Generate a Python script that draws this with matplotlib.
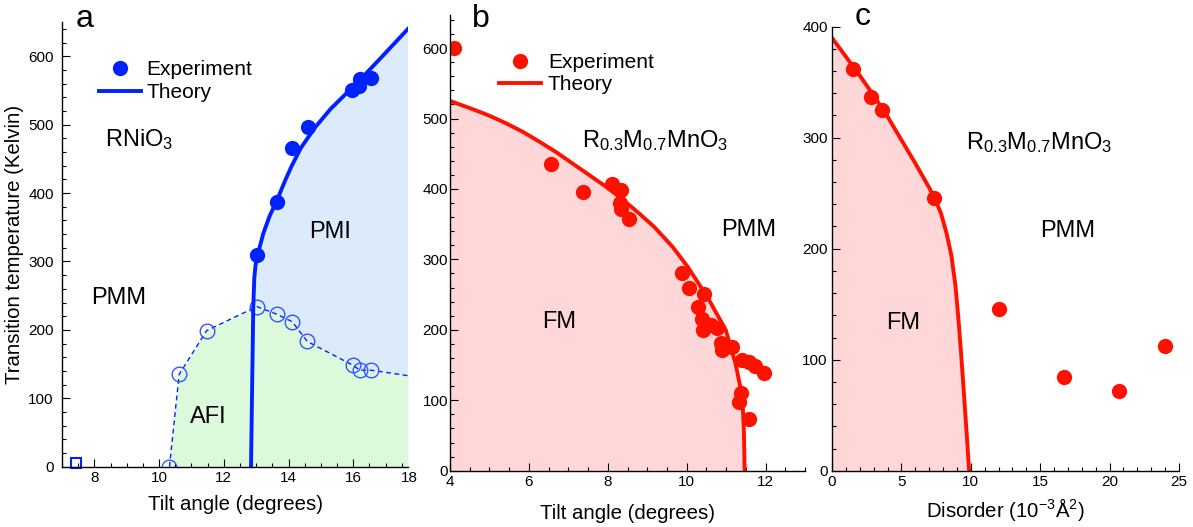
import numpy as np
import matplotlib
matplotlib.use('Agg')
import matplotlib.pyplot as plt
from matplotlib.lines import Line2D
from matplotlib.ticker import MultipleLocator

plt.rcParams['font.family'] = ['Liberation Sans', 'DejaVu Sans']
plt.rcParams['mathtext.fontset'] = 'custom'
plt.rcParams['mathtext.rm'] = 'Liberation Sans'
plt.rcParams['mathtext.it'] = 'Liberation Sans:italic'

# ---- panel a : RNiO3 ----
a_exp_x = [13.04, 13.63, 14.12, 14.61, 15.95, 16.18, 16.22, 16.54]
a_exp_t = [309, 387, 466, 496, 551, 557, 566, 568]
a_afi_x = [10.32, 10.62, 11.47, 13.02, 13.63, 14.11, 14.58, 16.0, 16.2, 16.56]
a_afi_t = [0, 135, 199, 234, 223, 212, 183, 148, 141, 141]
a_afi_end = (17.69, 133)
a_sq_x = [7.42]
a_sq_t = [5]
a_th_x = [12.84, 12.88, 12.91, 12.94, 12.98, 13.04, 13.22, 13.42, 13.62, 13.90, 14.10,
          14.38, 14.82, 15.30, 15.92, 16.38, 16.88, 17.69]
a_th_t = [0, 136, 234, 275, 295, 309, 341, 367, 387, 419, 440,
          466, 496, 523, 552, 574, 599, 640]

# ---- panel b : R0.3M0.7MnO3 vs tilt ----
b_exp_x = [4.09, 6.55, 7.36, 8.11, 8.34, 8.31, 8.33, 8.53, 9.89, 10.06, 10.44,
           10.29, 10.40, 10.41, 10.61, 10.78, 10.86, 10.90, 11.15, 11.41, 11.58,
           11.73, 11.95, 11.37, 11.32, 11.59]
b_exp_t = [600, 436, 395, 407, 398, 380, 371, 357, 280, 259, 251,
           233, 216, 200, 207, 202, 181, 171, 175, 157, 155,
           148, 139, 110, 98, 73]
b_th_x = [4.0, 4.59, 5.0, 5.43, 5.85, 6.27, 6.7, 7.11, 7.55, 7.96, 8.38, 8.80, 9.18,
          9.64, 10.02, 10.52, 10.99, 11.24, 11.41, 11.45, 11.47]
b_th_t = [525, 513, 504, 493, 481, 467, 452, 436, 419, 403, 385, 365, 346,
          318, 290, 247, 200, 152, 105, 58, 0]

# ---- panel c : R0.3M0.7MnO3 vs disorder ----
c_exp_x = [1.53, 2.81, 3.62, 7.36, 12.04, 16.71, 20.65, 24.0]
c_exp_t = [362, 337, 325, 246, 146, 84, 72, 112]
c_th_x = [0, 1, 2, 3, 4, 5, 6, 7, 7.41, 7.85, 8.25, 8.6, 8.9, 9.1, 9.3, 9.5, 9.7, 9.88]
c_th_t = [390, 373, 356, 338, 319, 298, 277, 255, 245, 232, 214, 194, 166, 138, 106,
          70, 34, 0]

blue = '#0022ff'
red = '#ff1100'
fill_blue = '#dcebfc'
fill_green = '#ddf9dc'
fill_red = '#ffd7d8'

W, H = 1193, 527
fig = plt.figure(figsize=(W / 100, H / 100), dpi=100)


def box(l, t, r, b):
    return [l / W, 1 - b / H, (r - l) / W, (b - t) / H]


def style(ax, xmaj, xmin, ymaj, ymin, ypad):
    for s in ['top', 'right']:
        ax.spines[s].set_visible(False)
    for s in ['left', 'bottom']:
        ax.spines[s].set_linewidth(1.0)
    ax.xaxis.set_major_locator(MultipleLocator(xmaj))
    ax.xaxis.set_minor_locator(MultipleLocator(xmin))
    ax.yaxis.set_major_locator(MultipleLocator(ymaj))
    ax.yaxis.set_minor_locator(MultipleLocator(ymin))
    ax.tick_params(which='both', direction='in', labelsize=11, width=0.8)
    ax.tick_params(which='major', length=6)
    ax.tick_params(which='minor', length=3)
    ax.tick_params(axis='x', pad=3)
    ax.tick_params(axis='y', pad=ypad)


lab = 14.7
reg = 17

# panel a
ax1 = fig.add_axes(box(62, 22, 408, 466.7))
afi_x = np.array(a_afi_x + [a_afi_end[0]])
afi_t = np.array(a_afi_t + [a_afi_end[1]])
ax1.fill_between(afi_x, afi_t, 0, color=fill_green, lw=0)
thx = np.array(a_th_x)
tht = np.array(a_th_t)
up = tht >= 234
px = np.concatenate([thx[up], afi_x[afi_x >= 13.02][::-1]])
pt = np.concatenate([tht[up], afi_t[afi_x >= 13.02][::-1]])
ax1.fill(px, pt, color=fill_blue, lw=0)
ax1.fill([a_th_x[-1], a_afi_end[0], a_afi_end[0]], [a_th_t[-1], 650, a_afi_end[1]],
         color=fill_blue, lw=0)
ax1.plot(afi_x, afi_t, color=blue, lw=1, dashes=(3.5, 2.5))
ax1.plot(a_afi_x, a_afi_t, 'o', ms=10.5, mfc='none', mec='#3355ff', mew=1.0)
ax1.plot(a_th_x, a_th_t, color=blue, lw=2.8, solid_joinstyle='round')
ax1.plot(a_exp_x, a_exp_t, 'o', ms=11, color=blue, mec='none')
ax1.plot(a_sq_x, a_sq_t, 's', ms=7, mfc='none', mec=blue, mew=1.5, clip_on=False)
ax1.set_xlim(7.0, 17.69)
ax1.set_ylim(0, 650)
style(ax1, 2, 0.5, 100, 20, 6)
ax1.text(18, -0.0094, '18', transform=ax1.get_xaxis_transform(), fontsize=11,
         ha='right', va='top', clip_on=False)
ax1.set_xlabel('Tilt angle (degrees)', fontsize=lab, labelpad=7)
ax1.set_ylabel('Transition temperature (Kelvin)', fontsize=lab, labelpad=3)
ax1.legend([Line2D([], [], ls='none', marker='o', ms=11, color=blue, mec='none'),
            Line2D([], [], color=blue, lw=2.8)],
           ['Experiment', 'Theory'], loc='upper left', bbox_to_anchor=(0.107, 0.915),
           frameon=False, fontsize=15, handlelength=2.0, handletextpad=0.27,
           labelspacing=0.2, borderpad=0, borderaxespad=0)
ax1.text(0.125, 0.72, 'RNiO$_3$', transform=ax1.transAxes, fontsize=reg)
ax1.text(0.775, 0.515, 'PMI', transform=ax1.transAxes, fontsize=reg, ha='center')
ax1.text(0.165, 0.365, 'PMM', transform=ax1.transAxes, fontsize=reg, ha='center')
ax1.text(0.422, 0.098, 'AFI', transform=ax1.transAxes, fontsize=reg, ha='center')

# panel b
ax2 = fig.add_axes(box(450, 15, 805, 470.7))
ax2.fill_between(b_th_x, b_th_t, 0, color=fill_red, lw=0)
ax2.plot(b_th_x, b_th_t, color=red, lw=2.8, solid_joinstyle='round')
ax2.plot(b_exp_x, b_exp_t, 'o', ms=11, color=red, mec='none')
ax2.set_xlim(4, 13)
ax2.set_ylim(0, 647)
style(ax2, 2, 0.5, 100, 20, 1.5)
ax2.set_xlabel('Tilt angle (degrees)', fontsize=lab, labelpad=11)
ax2.legend([Line2D([], [], ls='none', marker='o', ms=11, color=red, mec='none'),
            Line2D([], [], color=red, lw=2.8)],
           ['Experiment', 'Theory'], loc='upper left', bbox_to_anchor=(0.138, 0.917),
           frameon=False, fontsize=15, handlelength=2.0, handletextpad=0.35,
           labelspacing=0.16, borderpad=0, borderaxespad=0)
ax2.text(0.577, 0.71, 'R$_{0.3}$M$_{0.7}$MnO$_3$', transform=ax2.transAxes, fontsize=reg,
         ha='center')
ax2.text(0.84, 0.515, 'PMM', transform=ax2.transAxes, fontsize=reg, ha='center')
ax2.text(0.307, 0.313, 'FM', transform=ax2.transAxes, fontsize=reg, ha='center')

# panel c
ax3 = fig.add_axes(box(832, 26.7, 1179, 470.7))
ax3.fill_between(c_th_x, c_th_t, 0, color=fill_red, lw=0)
ax3.plot(c_th_x, c_th_t, color=red, lw=2.8, solid_joinstyle='round')
ax3.plot(c_exp_x, c_exp_t, 'o', ms=11, color=red, mec='none')
ax3.set_xlim(0, 25)
ax3.set_ylim(0, 400)
style(ax3, 5, 1, 100, 20, 3)
ax3.set_xlabel('Disorder (10$^{-3}$Å$^2$)', fontsize=lab, labelpad=5)
ax3.text(0.598, 0.725, 'R$_{0.3}$M$_{0.7}$MnO$_3$', transform=ax3.transAxes, fontsize=reg,
         ha='center')
ax3.text(0.68, 0.527, 'PMM', transform=ax3.transAxes, fontsize=reg, ha='center')
ax3.text(0.205, 0.32, 'FM', transform=ax3.transAxes, fontsize=reg, ha='center')

fig.text(85 / W, 1 - 27 / H, 'a', fontsize=23, ha='center')
fig.text(481 / W, 1 - 27 / H, 'b', fontsize=23, ha='center')
fig.text(863 / W, 1 - 25 / H, 'c', fontsize=23, ha='center')

fig.savefig('out.png', dpi=100)
